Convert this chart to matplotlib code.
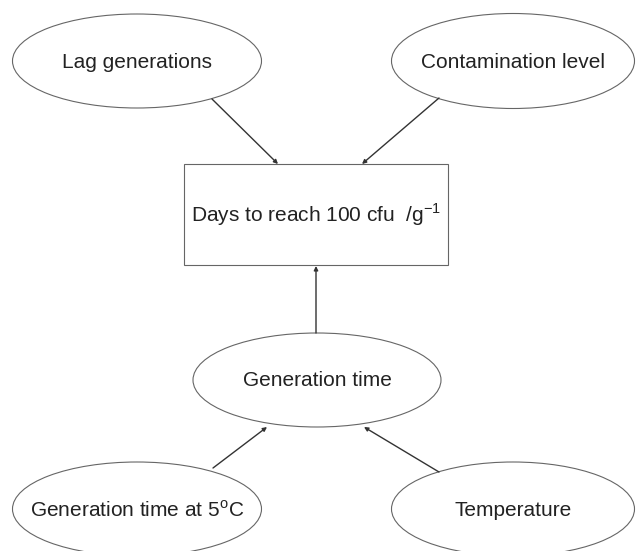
import matplotlib
matplotlib.use("Agg")
import matplotlib.pyplot as plt
from matplotlib.patches import Ellipse, Rectangle

plt.rcParams['font.family'] = ['Liberation Sans', 'DejaVu Sans']

# node labels
node_labels = ["Lag generations", "Contamination level", "Generation time",
               "Generation time at 5$^{\\mathregular{o}}$C", "Temperature"]
box_label = "Days to reach 100 cfu  /g$^{\\mathregular{-1}}$"

# layout in pixels (x, y, width, height)
ellipses = [(137, 61, 249, 94), (513, 61, 243, 95), (317, 380, 248, 94),
            (137, 509, 249, 94), (513, 509, 243, 94)]
box = (184, 164, 264, 101)

# arrows: (start, end)
arrows = [((212, 99), (278, 164)), ((439, 98), (362, 164)),
          ((316, 333), (316, 266)),
          ((213, 468), (267, 427)), ((439, 472), (364, 427))]

fig = plt.figure(figsize=(6.37, 5.51), dpi=100)
ax = fig.add_axes([0, 0, 1, 1])
ax.set_xlim(0, 637)
ax.set_ylim(551, 0)
ax.axis('off')

edge = '#666666'
for (cx, cy, w, h), label in zip(ellipses, node_labels):
    ax.add_patch(Ellipse((cx, cy), w, h, facecolor='white', edgecolor=edge, lw=0.8))
    ax.text(cx, cy + 1, label, ha='center', va='center', fontsize=15, color='#222222')

bx, by, bw, bh = box
ax.add_patch(Rectangle((bx, by), bw, bh, facecolor='white', edgecolor=edge, lw=0.8))
ax.text(bx + bw / 2, by + bh / 2, box_label, ha='center', va='center',
        fontsize=15, color='#222222')

for (x0, y0), (x1, y1) in arrows:
    ax.annotate('', xy=(x1, y1), xytext=(x0, y0),
                arrowprops=dict(arrowstyle='-|>', color='#333333', lw=1.0,
                                mutation_scale=6, shrinkA=0, shrinkB=0))

fig.savefig('out.png', dpi=100)
